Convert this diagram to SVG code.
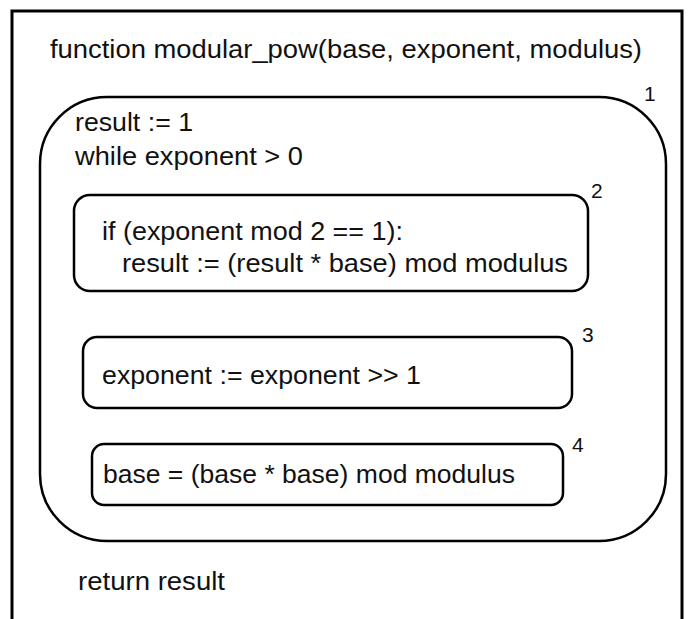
<svg xmlns="http://www.w3.org/2000/svg" width="693" height="619" viewBox="0 0 693 619">
  <style>
    .frame { fill: none; stroke: #000; stroke-width: 3; }
    .box { fill: none; stroke: #000; stroke-width: 2.5; }
    .code { font-family: "Liberation Sans", Arial, sans-serif; font-size: 25px; fill: #111; }
    .num { font-family: "Liberation Sans", Arial, sans-serif; font-size: 21px; fill: #111; }
  </style>
  <rect width="693" height="619" fill="#fff"/>
  <!-- page frame, open at the bottom -->
  <path class="frame" d="M12,619 V11 H682 V619"/>

  <g id="header">
    <text class="code" x="50" y="58" textLength="592" lengthAdjust="spacingAndGlyphs">function modular_pow(base, exponent, modulus)</text>
  </g>

  <g id="block1">
    <rect class="box" x="40" y="97" width="626" height="444" rx="67" ry="67"/>
    <text class="num" x="644" y="101">1</text>
    <text class="code" x="75" y="131" textLength="118" lengthAdjust="spacingAndGlyphs">result := 1</text>
    <text class="code" x="75" y="165" textLength="228" lengthAdjust="spacingAndGlyphs">while exponent &gt; 0</text>
  </g>

  <g id="block2">
    <rect class="box" x="74" y="195" width="514" height="96" rx="16" ry="16"/>
    <text class="num" x="591" y="198">2</text>
    <text class="code" x="102" y="240" textLength="301" lengthAdjust="spacingAndGlyphs">if (exponent mod 2 == 1):</text>
    <text class="code" x="122" y="272" textLength="446" lengthAdjust="spacingAndGlyphs">result := (result * base) mod modulus</text>
  </g>

  <g id="block3">
    <rect class="box" x="83" y="337" width="489" height="71" rx="14" ry="14"/>
    <text class="num" x="582" y="342">3</text>
    <text class="code" x="102" y="384" textLength="319" lengthAdjust="spacingAndGlyphs">exponent := exponent &gt;&gt; 1</text>
  </g>

  <g id="block4">
    <rect class="box" x="92" y="444" width="471" height="61" rx="12" ry="12"/>
    <text class="num" x="572" y="452">4</text>
    <text class="code" x="103" y="483" textLength="412" lengthAdjust="spacingAndGlyphs">base = (base * base) mod modulus</text>
  </g>

  <g id="footer">
    <text class="code" x="78" y="590" textLength="147" lengthAdjust="spacingAndGlyphs">return result</text>
  </g>

  <g id="connectors"></g>
</svg>
